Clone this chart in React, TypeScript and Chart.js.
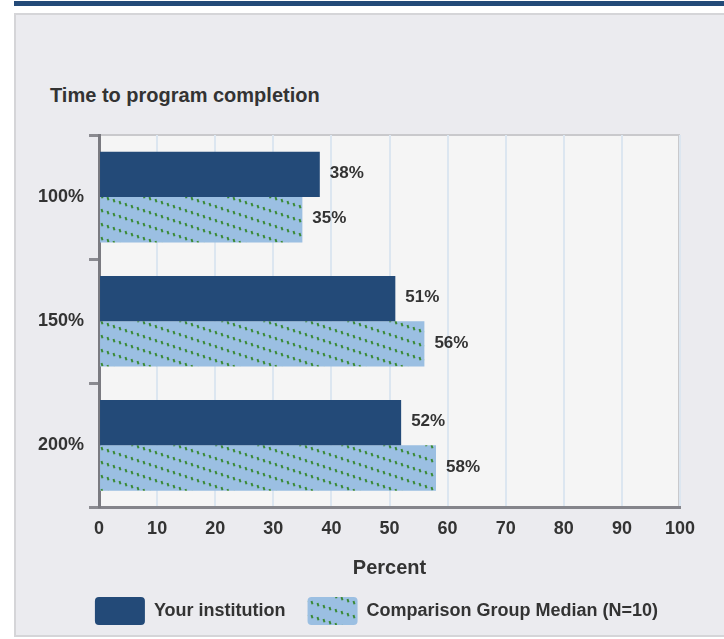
import { useEffect, useRef } from 'react';
import { Chart, registerables } from 'chart.js';

Chart.register(...registerables);

const chartTitle = 'Time to program completion';
const categories = ['100%', '150%', '200%'];
const seriesNames = ['Your institution', 'Comparison Group Median (N=10)'];
const yourInstitution = [38, 51, 52];
const comparisonMedian = [35, 56, 58];
const xAxisTitle = 'Percent';
const xMin = 0;
const xMax = 100;
const xStep = 10;

const FONT = '"Liberation Sans", Arial, Helvetica, sans-serif';
const DARK = '#234a78';
const LIGHT = '#9bbfe2';
const TEXT = '#333333';

function makePattern(): CanvasPattern | string {
  const W = 42;
  const H = 14;
  const c = document.createElement('canvas');
  c.width = W;
  c.height = H;
  const ctx = c.getContext('2d');
  if (!ctx) return LIGHT;
  ctx.fillStyle = LIGHT;
  ctx.fillRect(0, 0, W, H);
  ctx.strokeStyle = '#3b8a36';
  ctx.lineWidth = 2;
  ctx.lineCap = 'butt';
  for (let i = 0; i < 7; i++) {
    const x = i * 6 + 2;
    const y = x / 3 + 2;
    for (const dx of [-W, 0, W]) {
      for (const dy of [-H, 0, H]) {
        ctx.beginPath();
        ctx.moveTo(x + dx - 0.5, y + dy - 1.6);
        ctx.lineTo(x + dx + 0.5, y + dy + 1.6);
        ctx.stroke();
      }
    }
  }
  const p = ctx.createPattern(c, 'repeat');
  return p || LIGHT;
}

const plotBg = {
  id: 'plotBg',
  beforeDraw(chart: any) {
    const { ctx, chartArea } = chart;
    if (!chartArea) return;
    ctx.save();
    ctx.fillStyle = '#f5f5f5';
    ctx.fillRect(chartArea.left, chartArea.top, chartArea.right - chartArea.left, chartArea.bottom - chartArea.top);
    ctx.strokeStyle = '#c9c9cc';
    ctx.lineWidth = 2;
    ctx.beginPath();
    ctx.moveTo(chartArea.left, chartArea.top);
    ctx.lineTo(chartArea.right - 1, chartArea.top);
    ctx.lineTo(chartArea.right - 1, chartArea.bottom);
    ctx.stroke();
    ctx.restore();
  },
};

// nudge the legend row to the right, as in the reference
const legendShift = {
  id: 'legendShift',
  afterLayout(chart: any) {
    if (chart.legend) {
      chart.legend.left += 20;
      chart.legend.right += 20;
    }
  },
};

const valueLabels = {
  id: 'valueLabels',
  afterDatasetsDraw(chart: any) {
    const { ctx } = chart;
    ctx.save();
    ctx.font = `bold 17px ${FONT}`;
    ctx.fillStyle = TEXT;
    ctx.textAlign = 'left';
    ctx.textBaseline = 'middle';
    chart.data.datasets.forEach((ds: any, di: number) => {
      const meta = chart.getDatasetMeta(di);
      meta.data.forEach((bar: any, i: number) => {
        ctx.fillText(`${ds.data[i]}%`, bar.x + 10, bar.y - 1);
      });
    });
    ctx.restore();
  },
};

export default function App() {
  const ref = useRef<HTMLCanvasElement | null>(null);

  useEffect(() => {
    if (!ref.current) return;
    const pattern = makePattern();
    const chart = new Chart(ref.current, {
      type: 'bar',
      data: {
        labels: categories,
        datasets: [
          {
            label: seriesNames[0],
            data: yourInstitution,
            backgroundColor: DARK,
            borderWidth: 0,
            categoryPercentage: 0.73,
            barPercentage: 1.0,
          },
          {
            label: seriesNames[1],
            data: comparisonMedian,
            backgroundColor: pattern as any,
            borderWidth: 0,
            categoryPercentage: 0.73,
            barPercentage: 1.0,
          },
        ],
      },
      options: {
        indexAxis: 'y',
        responsive: false,
        animation: false,
        devicePixelRatio: 1,
        layout: { padding: { left: 17, right: 44, top: 25, bottom: 5 } },
        font: { family: FONT },
        scales: {
          x: {
            min: xMin,
            max: xMax,
            ticks: {
              stepSize: xStep,
              color: TEXT,
              font: { family: FONT, size: 18, weight: 'bold' },
              padding: 11,
            },
            grid: {
              color: '#dce6f0',
              lineWidth: 2,
              drawTicks: false,
            },
            border: { display: true, color: '#85858b', width: 3 },
            title: {
              display: true,
              text: xAxisTitle,
              color: TEXT,
              font: { family: FONT, size: 20, weight: 'bold' },
              padding: { top: 5, bottom: -5 },
            },
          },
          y: {
            ticks: {
              color: TEXT,
              font: { family: FONT, size: 18, weight: 'bold' },
              padding: 5,
            },
            grid: {
              offset: true,
              drawOnChartArea: false,
              drawTicks: true,
              tickLength: 10,
              tickWidth: 3,
              tickColor: '#8a8a90',
              color: '#8a8a90',
            },
            border: { display: true, color: '#7a7a80', width: 3 },
          },
        },
        plugins: {
          legend: {
            position: 'bottom',
            labels: {
              boxWidth: 50,
              boxHeight: 28,
              padding: 22,
              color: TEXT,
              font: { family: FONT, size: 18, weight: 'bold' },
              useBorderRadius: true,
              borderRadius: 4,
            },
          },
          title: { display: false },
          tooltip: { enabled: false },
        },
      },
      plugins: [plotBg, legendShift, valueLabels],
    });
    return () => chart.destroy();
  }, []);

  return (
    <div style={{ position: 'absolute', left: 0, top: 0, width: 724, height: 639, overflow: 'hidden', background: '#ffffff' }}>
      <div style={{ position: 'absolute', left: 14, top: 1, width: 710, height: 5, background: DARK }} />
      <div
        style={{
          position: 'absolute',
          left: 14,
          top: 13,
          width: 720,
          height: 620,
          border: '2px solid #d5d5d8',
          background: '#ebebef',
        }}
      />
      <div
        style={{
          position: 'absolute',
          left: 50,
          top: 83,
          fontFamily: FONT,
          fontWeight: 'bold',
          fontSize: 20,
          lineHeight: '24px',
          color: TEXT,
          whiteSpace: 'nowrap',
        }}
      >
        {chartTitle}
      </div>
      <canvas
        ref={ref}
        width={708}
        height={530}
        style={{ position: 'absolute', left: 16, top: 110, width: 708, height: 530 }}
      />
    </div>
  );
}
